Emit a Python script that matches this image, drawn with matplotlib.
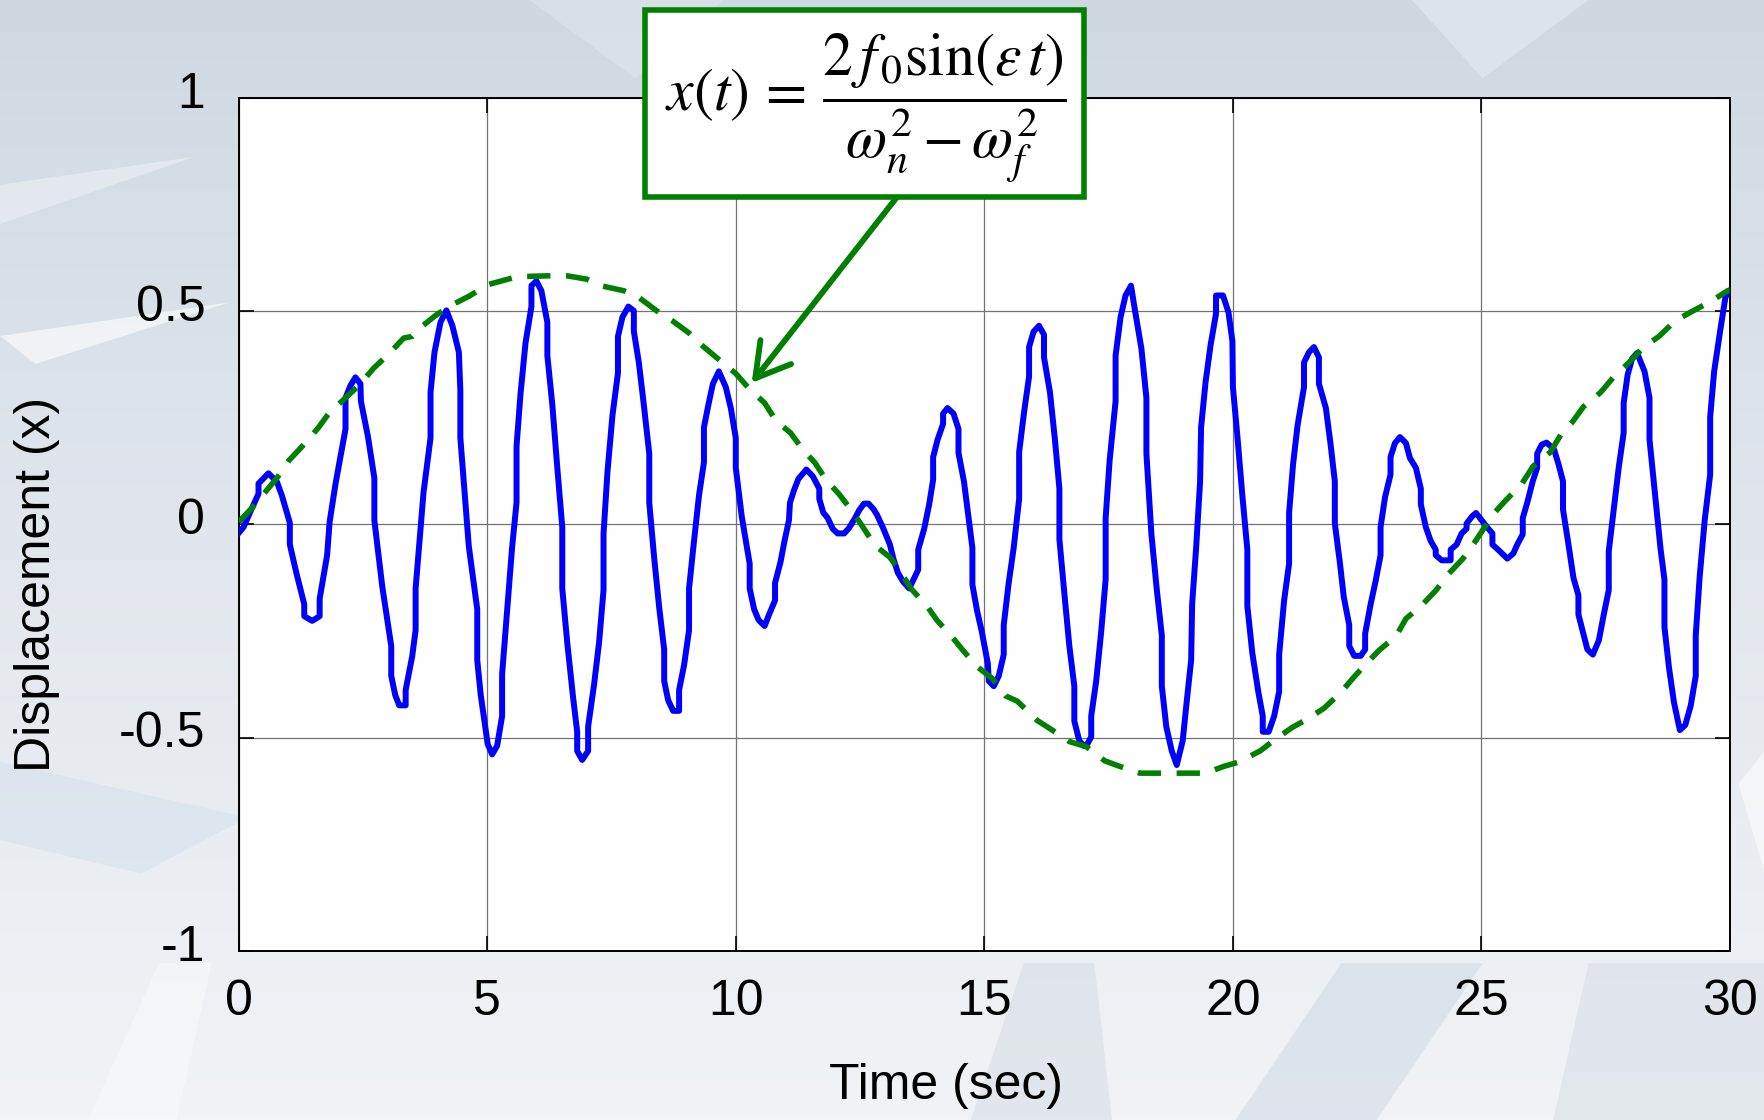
import numpy as np
import matplotlib
matplotlib.use('Agg')
import matplotlib.pyplot as plt
from matplotlib.patches import Polygon, Rectangle
from matplotlib.colors import LinearSegmentedColormap
from matplotlib.transforms import ScaledTranslation

# beating response x(t) (time in sec, displacement)
t_resp = [0.00, 0.10, 0.27, 0.40, 0.40, 0.60, 0.77, 0.87, 1.03, 1.03, 1.16, 1.32, 1.32, 1.48, 1.63, 1.63, 1.78, 1.83, 1.95,
          2.15, 2.15, 2.25, 2.35, 2.45, 2.46, 2.60, 2.73, 2.73, 2.89, 3.07, 3.07, 3.15, 3.23, 3.36, 3.36, 3.49, 3.56, 3.56,
          3.72, 3.86, 3.86, 3.94, 4.06, 4.18, 4.30, 4.43, 4.46, 4.46, 4.63, 4.80, 4.80, 4.87, 4.93, 5.01, 5.10, 5.20, 5.30,
          5.30, 5.40, 5.50, 5.59, 5.59, 5.67, 5.77, 5.89, 5.89, 5.99, 6.09, 6.21, 6.21, 6.31, 6.41, 6.51, 6.51, 6.61, 6.73,
          6.81, 6.81, 6.91, 7.03, 7.03, 7.15, 7.25, 7.34, 7.34, 7.42, 7.52, 7.63, 7.63, 7.72, 7.84, 7.95, 7.95, 8.05, 8.15,
          8.26, 8.26, 8.36, 8.46, 8.56, 8.56, 8.64, 8.74, 8.86, 8.86, 8.96, 9.06, 9.06, 9.16, 9.26, 9.36, 9.36, 9.45, 9.54,
          9.66, 9.80, 9.90, 10.00, 10.00, 10.12, 10.28, 10.28, 10.37, 10.46, 10.58, 10.67, 10.79, 10.79, 10.90, 10.98,
          11.07, 11.09, 11.17, 11.26, 11.36, 11.42, 11.55, 11.68, 11.68, 11.76, 11.85, 11.95, 12.05, 12.18, 12.28, 12.40,
          12.48, 12.58, 12.67, 12.77, 12.84, 12.97, 13.10, 13.17, 13.26, 13.36, 13.49, 13.56, 13.67, 13.67, 13.79, 13.89,
          13.97, 13.97, 14.06, 14.17, 14.17, 14.26, 14.38, 14.48, 14.48, 14.59, 14.67, 14.76, 14.76, 14.85, 14.95, 15.07,
          15.09, 15.19, 15.29, 15.39, 15.39, 15.49, 15.59, 15.70, 15.70, 15.80, 15.90, 15.90, 15.99, 16.10, 16.20, 16.20,
          16.32, 16.42, 16.51, 16.51, 16.61, 16.71, 16.81, 16.81, 16.91, 17.00, 17.07, 17.15, 17.15, 17.25, 17.35, 17.44,
          17.44, 17.52, 17.64, 17.64, 17.74, 17.84, 17.95, 18.03, 18.16, 18.26, 18.26, 18.36, 18.47, 18.57, 18.57, 18.66,
          18.77, 18.87, 18.99, 19.07, 19.16, 19.18, 19.26, 19.34, 19.36, 19.45, 19.55, 19.66, 19.66, 19.80, 19.91, 19.99,
          20.00, 20.09, 20.19, 20.29, 20.29, 20.39, 20.51, 20.60, 20.60, 20.72, 20.83, 20.93, 20.93, 21.03, 21.13, 21.13,
          21.21, 21.30, 21.43, 21.43, 21.53, 21.63, 21.73, 21.73, 21.87, 21.97, 22.05, 22.05, 22.15, 22.23, 22.34, 22.34,
          22.44, 22.57, 22.66, 22.66, 22.77, 22.87, 22.97, 22.97, 23.06, 23.17, 23.17, 23.26, 23.36, 23.48, 23.56, 23.68,
          23.78, 23.78, 23.88, 23.98, 24.08, 24.08, 24.20, 24.38, 24.38, 24.50, 24.60, 24.70, 24.70, 24.81, 24.89, 24.99,
          25.11, 25.22, 25.22, 25.37, 25.52, 25.64, 25.72, 25.83, 25.83, 25.92, 26.03, 26.12, 26.12, 26.21, 26.31, 26.46,
          26.55, 26.64, 26.64, 26.75, 26.85, 26.95, 26.95, 27.04, 27.13, 27.24, 27.36, 27.46, 27.56, 27.56, 27.66, 27.76,
          27.86, 27.86, 27.94, 28.03, 28.13, 28.28, 28.38, 28.38, 28.50, 28.60, 28.68, 28.68, 28.77, 28.87, 28.99, 29.10,
          29.21, 29.31, 29.31, 29.39, 29.49, 29.60, 29.60, 29.68, 29.80, 29.91, 30.00]
x_resp = [-0.020, -0.006, 0.039, 0.072, 0.096, 0.120, 0.100, 0.068, 0.004, -0.047, -0.113, -0.187, -0.215, -0.226, -0.215,
          -0.174, -0.072, 0.006, 0.096, 0.224, 0.297, 0.326, 0.345, 0.330, 0.289, 0.207, 0.109, 0.010, -0.146, -0.285,
          -0.355, -0.400, -0.424, -0.424, -0.388, -0.310, -0.248, -0.150, 0.076, 0.203, 0.310, 0.404, 0.474, 0.502, 0.466,
          0.404, 0.314, 0.203, -0.051, -0.199, -0.318, -0.400, -0.449, -0.515, -0.539, -0.519, -0.449, -0.351, -0.203,
          -0.055, 0.051, 0.183, 0.306, 0.425, 0.511, 0.560, 0.571, 0.548, 0.474, 0.396, 0.281, 0.133, -0.006, -0.150,
          -0.277, -0.408, -0.486, -0.531, -0.552, -0.531, -0.474, -0.375, -0.277, -0.154, -0.022, 0.125, 0.256, 0.355,
          0.441, 0.486, 0.511, 0.501, 0.453, 0.380, 0.281, 0.166, 0.051, -0.080, -0.195, -0.293, -0.367, -0.412, -0.437,
          -0.437, -0.388, -0.330, -0.248, -0.150, -0.039, 0.068, 0.146, 0.228, 0.281, 0.330, 0.359, 0.322, 0.273, 0.203,
          0.133, 0.019, -0.092, -0.150, -0.199, -0.224, -0.238, -0.211, -0.178, -0.137, -0.088, -0.039, 0.010, 0.051,
          0.080, 0.107, 0.121, 0.129, 0.113, 0.084, 0.060, 0.028, 0.015, -0.010, -0.021, -0.021, -0.008, 0.015, 0.033,
          0.049, 0.049, 0.036, 0.023, -0.010, -0.047, -0.080, -0.113, -0.133, -0.150, -0.133, -0.106, -0.059, -0.010,
          0.047, 0.105, 0.158, 0.199, 0.236, 0.260, 0.273, 0.260, 0.224, 0.168, 0.101, 0.027, -0.055, -0.141, -0.200,
          -0.252, -0.326, -0.367, -0.379, -0.355, -0.305, -0.236, -0.137, -0.055, 0.060, 0.170, 0.264, 0.347, 0.416,
          0.452, 0.466, 0.445, 0.392, 0.310, 0.199, 0.084, -0.035, -0.162, -0.285, -0.379, -0.461, -0.507, -0.519,
          -0.515, -0.498, -0.449, -0.367, -0.252, -0.129, 0.015, 0.150, 0.289, 0.396, 0.486, 0.537, 0.560, 0.502, 0.412,
          0.297, 0.166, -0.022, -0.154, -0.260, -0.379, -0.474, -0.531, -0.564, -0.507, -0.416, -0.318, -0.187, -0.055,
          0.101, 0.228, 0.334, 0.420, 0.494, 0.537, 0.537, 0.498, 0.430, 0.322, 0.207, 0.068, -0.059, -0.191, -0.301,
          -0.392, -0.449, -0.486, -0.486, -0.449, -0.392, -0.305, -0.178, -0.092, 0.027, 0.141, 0.232, 0.322, 0.380,
          0.404, 0.416, 0.392, 0.330, 0.273, 0.183, 0.101, 0.002, -0.088, -0.170, -0.236, -0.285, -0.308, -0.308, -0.293,
          -0.256, -0.187, -0.133, -0.072, -0.006, 0.064, 0.117, 0.158, 0.191, 0.205, 0.191, 0.156, 0.133, 0.084, 0.047,
          -0.006, -0.039, -0.059, -0.072, -0.084, -0.084, -0.059, -0.047, -0.021, -0.010, 0.002, 0.019, 0.027, 0.012,
          -0.006, -0.021, -0.047, -0.063, -0.080, -0.068, -0.047, -0.023, 0.015, 0.051, 0.101, 0.133, 0.166, 0.187,
          0.192, 0.176, 0.141, 0.101, 0.035, -0.047, -0.125, -0.166, -0.211, -0.252, -0.293, -0.305, -0.272, -0.211,
          -0.154, -0.063, 0.035, 0.133, 0.215, 0.285, 0.351, 0.389, 0.402, 0.359, 0.297, 0.199, 0.060, -0.055, -0.129,
          -0.240, -0.334, -0.416, -0.482, -0.470, -0.424, -0.355, -0.260, -0.121, 0.010, 0.117, 0.252, 0.359, 0.453,
          0.535, 0.545]

# envelope curve 2 f0 sin(eps t) / (wn^2 - wf^2)
t_env = [0.00, 0.27, 0.77, 1.01, 1.31, 1.61, 1.81, 2.15, 2.42, 2.72, 3.02, 3.32, 3.49, 3.66, 3.96, 4.26, 4.63, 4.87,
         5.00, 5.60, 6.21, 6.61, 7.01, 7.28, 7.75, 8.02, 8.49, 8.72, 9.06, 9.36, 9.70, 10.00, 10.28, 10.58, 10.81,
         11.10, 11.36, 11.59, 11.82, 12.08, 12.35, 12.54, 12.80, 13.10, 13.33, 13.53, 13.85, 14.05, 14.34, 14.57,
         14.84, 15.16, 15.43, 15.66, 16.07, 16.34, 16.71, 17.05, 17.42, 17.72, 18.13, 19.45, 19.82, 20.12, 20.56,
         20.79, 21.19, 21.50, 21.83, 22.17, 22.44, 22.67, 22.94, 23.28, 23.48, 23.81, 24.08, 24.32, 24.62, 24.85,
         25.10, 25.24, 25.50, 25.81, 26.04, 26.38, 26.62, 26.82, 27.05, 27.39, 27.66, 27.96, 28.26, 28.57, 28.90,
         29.21, 29.61, 29.95, 30.00]
x_env = [0.006, 0.039, 0.109, 0.150, 0.187, 0.228, 0.260, 0.297, 0.326, 0.367, 0.400, 0.437, 0.441, 0.462, 0.490,
         0.513, 0.535, 0.552, 0.562, 0.581, 0.583, 0.583, 0.575, 0.560, 0.548, 0.535, 0.494, 0.478, 0.449, 0.416,
         0.383, 0.354, 0.317, 0.285, 0.243, 0.215, 0.174, 0.145, 0.104, 0.071, 0.030, -0.003, -0.049, -0.077, -0.114,
         -0.151, -0.192, -0.225, -0.262, -0.295, -0.332, -0.361, -0.402, -0.414, -0.460, -0.480, -0.509, -0.521,
         -0.554, -0.567, -0.583, -0.583, -0.567, -0.557, -0.530, -0.509, -0.476, -0.456, -0.431, -0.394, -0.357,
         -0.328, -0.295, -0.262, -0.221, -0.188, -0.155, -0.118, -0.081, -0.044, 0.000, 0.025, 0.058, 0.095, 0.137,
         0.169, 0.215, 0.239, 0.276, 0.309, 0.346, 0.379, 0.416, 0.441, 0.478, 0.498, 0.523, 0.548, 0.550]

x_ticks = [0, 5, 10, 15, 20, 25, 30]
y_ticks = [-1, -0.5, 0, 0.5, 1]
y_tick_labels = ['-1', '-0.5', '0', '0.5', '1']
arrow_tip = (10.32, 0.332)

plt.rcParams['font.family'] = ['Liberation Sans', 'DejaVu Sans']
plt.rcParams['mathtext.fontset'] = 'stix'

fig = plt.figure(figsize=(17.65, 11.2), dpi=100)

# pale bluish backdrop with a few light shards
bg = fig.add_axes([0, 0, 1, 1], zorder=-10)
bg.set_axis_off()
cmap = LinearSegmentedColormap.from_list('bg', ['#f1f3f6', '#e2e7ed', '#cfd8e1'])
bg.imshow(np.linspace(0, 1, 256).reshape(-1, 1), aspect='auto', cmap=cmap,
          extent=[0, 1, 0, 1], origin='lower')
shards = [
    ([(0, 0.70), (0.13, 0.73), (0.02, 0.675)], 'white', 0.6),
    ([(0, 0.80), (0.11, 0.86), (0.0, 0.835)], 'white', 0.35),
    ([(0.0, 0.32), (0.14, 0.27), (0.08, 0.22), (0.0, 0.25)], '#c9d9ea', 0.35),
    ([(0.05, 0.0), (0.09, 0.14), (0.12, 0.14), (0.10, 0.0)], 'white', 0.35),
    ([(0.55, 0.0), (0.58, 0.14), (0.62, 0.14), (0.63, 0.0)], '#c7d2dd', 0.35),
    ([(0.70, 0.0), (0.76, 0.14), (0.84, 0.14), (0.78, 0.0)], '#c3cfdb', 0.4),
    ([(0.88, 0.0), (0.90, 0.14), (1.0, 0.14), (1.0, 0.0)], '#d1dae3', 0.45),
    ([(0.985, 0.30), (1.0, 0.33), (1.0, 0.22)], 'white', 0.5),
    ([(0.80, 1.0), (0.84, 0.93), (0.90, 1.0)], '#e9eef3', 0.5),
    ([(0.30, 1.0), (0.36, 0.93), (0.41, 1.0)], '#e4e9ef', 0.45),
]
for pts, col, al in shards:
    bg.add_patch(Polygon(pts, closed=True, facecolor=col, edgecolor='none', alpha=al,
                         transform=bg.transAxes))

ax = fig.add_axes([0.1352, 0.1509, 0.845, 0.7616])
ax.set_facecolor('white')
ax.plot(t_resp, x_resp, color='#0000ff', lw=4.3, zorder=3)
ax.plot(t_env, x_env, color='#008000', lw=4.0, dashes=(4.2, 2.8), zorder=4)

ax.set_xlim(0, 30)
ax.set_ylim(-1, 1)
ax.set_xticks(x_ticks)
ax.set_yticks(y_ticks, y_tick_labels)
ax.grid(True, color='0.45', lw=0.9)
ax.set_axisbelow(True)
ax.tick_params(direction='in', length=11, width=1.2, top=True, right=True, labelsize=36)
ax.tick_params(axis='x', pad=20)
ax.tick_params(axis='y', pad=24)
for sp in ax.spines.values():
    sp.set_linewidth(1.4)
for lbl in ax.get_yticklabels():
    lbl.set_transform(lbl.get_transform() + ScaledTranslation(0, 6 / 72, fig.dpi_scale_trans))

ax.set_xlabel('Time (sec)', fontsize=36, va='center')
ax.xaxis.set_label_coords(0.474, -0.158)
ax.set_ylabel('Displacement (x)', fontsize=36, va='center')
ax.yaxis.set_label_coords(-0.135, 0.43)

# formula box and arrow
fig.add_artist(Rectangle((645 / 1765, 1 - 197 / 1120), 439 / 1765, 187 / 1120, transform=fig.transFigure,
                         facecolor='white', edgecolor='#008000', lw=4.0, zorder=10))
fig.text(866 / 1765, 1 - 108 / 1120,
         r'$x(t)\,=\,\dfrac{2\,f_{\,0}\mathrm{sin}\left(\varepsilon\, t\right)}{\omega_n^2-\omega_f^2}$',
         fontsize=43, ha='center', va='center', zorder=11)
ax.annotate('', xy=arrow_tip, xycoords='data', xytext=(897 / 1765, 1 - 197 / 1120),
            textcoords='figure fraction', annotation_clip=False, zorder=9,
            arrowprops=dict(arrowstyle='->,head_length=0.6,head_width=0.35', color='#008000',
                            lw=4.2, mutation_scale=40, shrinkA=0, shrinkB=0))

fig.savefig('out.png', dpi=100)
